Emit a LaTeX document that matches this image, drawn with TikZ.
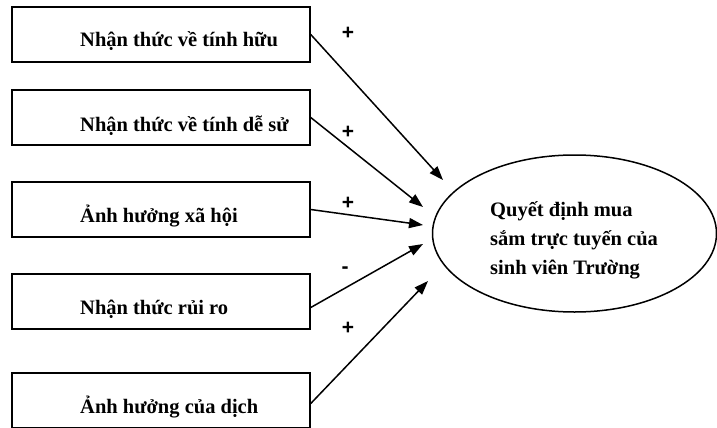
\documentclass[tikz,border=0pt]{standalone}
\usepackage{fontspec}
\setmainfont{Liberation Serif}
\newfontfamily\signfont{Liberation Sans}
\usetikzlibrary{shapes.geometric,arrows.meta}
\tikzset{
  factor/.style={draw, line width=1.5pt, minimum width=298pt, minimum height=55pt, inner sep=0pt},
  ftext/.style={anchor=base west, inner sep=0pt, font=\bfseries\fontsize{20.5}{24}\selectfont},
  target/.style={draw, ellipse, line width=1.5pt, minimum width=284pt, minimum height=157pt, inner sep=0pt},
  link/.style={line width=1.5pt, -{Triangle[length=14pt,width=10pt]}},
  sign/.style={inner sep=0pt, font=\signfont\bfseries\fontsize{21}{24}\selectfont}
}
\begin{document}
\begin{tikzpicture}[x=1pt,y=-1pt]
\useasboundingbox (0,0) rectangle (717,428);
\node[factor] (b1) at (161,34.5) {};
\node[factor] (b2) at (161,117.5) {};
\node[factor] (b3) at (161,209.5) {};
\node[factor] (b4) at (161,301.5) {};
\node[factor] (b5) at (161,400.5) {};
\node[ftext] (t1) at (80,47) {Nhận thức về tính hữu};
\node[ftext] (t2) at (80,131) {Nhận thức về tính dễ sử};
\node[ftext] (t3) at (80,222) {Ảnh hưởng xã hội};
\node[ftext] (t4) at (80,314) {Nhận thức rủi ro};
\node[ftext] (t5) at (80,413) {Ảnh hưởng của dịch};
\node[target] (e) at (574.5,233.5) {};
\node[anchor=west, inner sep=0pt, align=left, font=\bfseries\fontsize{20.5}{29}\selectfont] (et) at (490,240) {Quyết định mua\\sắm trực tuyến của\\sinh viên Trường};
\coordinate (p1) at (443,180);
\coordinate (p2) at (423,207);
\coordinate (p3) at (423,225);
\coordinate (p4) at (423,244);
\coordinate (p5) at (428,281);
\draw[link] (b1.east) -- (p1);
\draw[link] (b2.east) -- (p2);
\draw[link] (b3.east) -- (p3);
\draw[link] ([yshift=-6pt]b4.east) -- (p4);
\draw[link] ([yshift=-3pt]b5.east) -- (p5);
\node[sign] (s1) at (348,33) {+};
\node[sign] (s2) at (348,132) {+};
\node[sign] (s3) at (348,203) {+};
\node[sign] (s4) at (345,270) {-};
\node[sign] (s5) at (348,328) {+};
\end{tikzpicture}
\end{document}
